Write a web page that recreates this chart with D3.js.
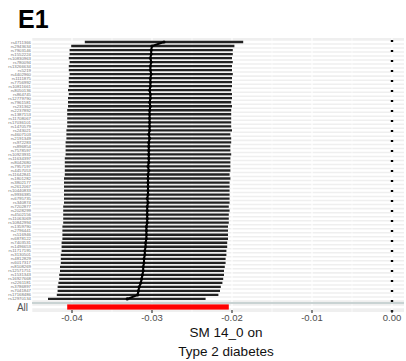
<!DOCTYPE html>
<html><head><meta charset="utf-8">
<script src="https://cdn.jsdelivr.net/npm/d3@7"></script>
<style>body{margin:0;background:#fff}svg{display:block;font-family:"Liberation Sans",Arial,sans-serif}</style>
</head><body><svg id="c" width="406" height="361"></svg>
<script>
const snps = ["rs4711366","rs2943634","rs7903146","rs1552224","rs10830963","rs780094","rs13266634","rs5219","rs4402960","rs1111875","rs7756992","rs10811661","rs8050136","rs864745","rs12779790","rs7961581","rs231362","rs2237892","rs1387153","rs11708067","rs17036101","rs1470579","rs243021","rs4607103","rs2191349","rs972283","rs896854","rs7578597","rs10923931","rs11634397","rs8042680","rs7957197","rs4457053","rs11642841","rs1801282","rs3802177","rs2612067","rs10440833","rs9936385","rs6795735","rs340874","rs7202877","rs2028299","rs4502156","rs11063069","rs10842994","rs1359790","rs2796441","rs516946","rs6878122","rs7403531","rs1496653","rs11717195","rs3130501","rs4812829","rs6017317","rs8108269","rs12571751","rs1531343","rs16927668","rs2261181","rs3786897","rs7041847","rs17168486","rs12970134"];
const est = [-0.0285,-0.0300,-0.0301,-0.0301,-0.0302,-0.0301,-0.0302,-0.0302,-0.0301,-0.0302,-0.0302,-0.0302,-0.0303,-0.0302,-0.0302,-0.0303,-0.0302,-0.0303,-0.0303,-0.0303,-0.0303,-0.0303,-0.0303,-0.0304,-0.0303,-0.0304,-0.0304,-0.0304,-0.0304,-0.0304,-0.0304,-0.0305,-0.0304,-0.0305,-0.0305,-0.0305,-0.0305,-0.0305,-0.0305,-0.0306,-0.0305,-0.0306,-0.0306,-0.0306,-0.0306,-0.0306,-0.0307,-0.0307,-0.0307,-0.0307,-0.0308,-0.0308,-0.0309,-0.0309,-0.0310,-0.0310,-0.0311,-0.0311,-0.0312,-0.0313,-0.0314,-0.0316,-0.0317,-0.0318,-0.0331];
const lower = [-0.0384,-0.0401,-0.0403,-0.0403,-0.0404,-0.0403,-0.0404,-0.0404,-0.0403,-0.0404,-0.0404,-0.0404,-0.0405,-0.0404,-0.0405,-0.0405,-0.0405,-0.0406,-0.0406,-0.0406,-0.0406,-0.0406,-0.0407,-0.0407,-0.0407,-0.0408,-0.0408,-0.0408,-0.0408,-0.0409,-0.0409,-0.0409,-0.0409,-0.0409,-0.0410,-0.0410,-0.0410,-0.0410,-0.0410,-0.0410,-0.0410,-0.0411,-0.0411,-0.0411,-0.0411,-0.0411,-0.0412,-0.0412,-0.0412,-0.0412,-0.0413,-0.0413,-0.0413,-0.0414,-0.0414,-0.0414,-0.0415,-0.0415,-0.0416,-0.0416,-0.0417,-0.0418,-0.0418,-0.0419,-0.0430];
const upper = [-0.0186,-0.0197,-0.0199,-0.0199,-0.0200,-0.0199,-0.0200,-0.0200,-0.0199,-0.0200,-0.0200,-0.0200,-0.0201,-0.0200,-0.0200,-0.0201,-0.0200,-0.0201,-0.0201,-0.0201,-0.0201,-0.0201,-0.0200,-0.0202,-0.0201,-0.0201,-0.0202,-0.0202,-0.0201,-0.0202,-0.0202,-0.0202,-0.0202,-0.0203,-0.0202,-0.0203,-0.0203,-0.0203,-0.0203,-0.0203,-0.0203,-0.0204,-0.0203,-0.0204,-0.0204,-0.0204,-0.0205,-0.0205,-0.0205,-0.0205,-0.0206,-0.0206,-0.0207,-0.0207,-0.0208,-0.0208,-0.0209,-0.0210,-0.0210,-0.0211,-0.0212,-0.0214,-0.0215,-0.0217,-0.0233];
const allEst = -0.0305, allLower = -0.0406, allUpper = -0.0204;
const xTicks = [-0.04,-0.03,-0.02,-0.01,0.00];
const xMinor = [-0.045,-0.035,-0.025,-0.015,-0.005];
const titleText = "E1";
const xTitle = ["SM 14_0 on","Type 2 diabetes"];

const svg = d3.select("#c");
const L = 32, R = 404, T = 38, B = 312;
const x = d3.scaleLinear().domain([-0.045, 0.0015]).range([L, R]);
const y = d3.scalePoint().domain([...snps, "sep", "All"]).range([42, 307]);

// panel
svg.append("rect").attr("x",L).attr("y",T).attr("width",R-L).attr("height",B-T).attr("fill","#efefef");
svg.append("g").selectAll("line").data(xMinor).join("line")
  .attr("x1",d=>x(d)).attr("x2",d=>x(d)).attr("y1",T).attr("y2",B)
  .attr("stroke","#fff").attr("stroke-width",0.6);
svg.append("g").selectAll("line").data(snps.concat(["All"])).join("line")
  .attr("x1",L).attr("x2",R).attr("y1",d=>y(d)).attr("y2",d=>y(d))
  .attr("stroke","#fff").attr("stroke-width",2.5);
svg.append("g").selectAll("line").data(xTicks).join("line")
  .attr("x1",d=>x(d)).attr("x2",d=>x(d)).attr("y1",T).attr("y2",B)
  .attr("stroke","#fff").attr("stroke-width",1.2);
// separator
svg.append("line").attr("x1",L).attr("x2",R).attr("y1",y("sep")).attr("y2",y("sep"))
  .attr("stroke","#c9d3d3").attr("stroke-width",2);

// zero dotted line
svg.append("line").attr("x1",x(0)).attr("x2",x(0)).attr("y1",40).attr("y2",B)
  .attr("stroke","#000").attr("stroke-width",2.4).attr("stroke-dasharray","2,8");

// bars
const rows = snps.map((s,i)=>({s, e:est[i], lo:lower[i], hi:upper[i]}));
svg.append("g").selectAll("line").data(rows).join("line")
  .attr("x1",d=>x(d.lo)).attr("x2",d=>x(d.hi)).attr("y1",d=>y(d.s)).attr("y2",d=>y(d.s))
  .attr("stroke","#222").attr("stroke-width",2.3);
// connecting line through estimates
svg.append("path").datum(rows)
  .attr("d", d3.line().x(d=>x(d.e)).y(d=>y(d.s)))
  .attr("fill","none").attr("stroke","#000").attr("stroke-width",2);
svg.append("g").selectAll("circle").data(rows).join("circle")
  .attr("cx",d=>x(d.e)).attr("cy",d=>y(d.s)).attr("r",1.6).attr("fill","#000");

// All row
svg.append("rect").attr("x",x(allLower)).attr("width",x(allUpper)-x(allLower))
  .attr("y",y("All")-2.6).attr("height",5.2).attr("fill","#ff0000");

// y labels
svg.append("g").selectAll("text").data(snps).join("text")
  .attr("x",L-1).attr("y",d=>y(d)).attr("dy","0.35em").attr("text-anchor","end")
  .attr("font-size",4.3).attr("fill","#777").text(d=>d);
svg.append("text").attr("x",28).attr("y",y("All")).attr("dy","0.35em").attr("text-anchor","end")
  .attr("font-size",10).attr("fill","#555").text("All");

// x axis
const ax = svg.append("g");
ax.selectAll("line").data(xTicks).join("line")
  .attr("x1",d=>x(d)).attr("x2",d=>x(d)).attr("y1",B-2).attr("y2",B+1)
  .attr("stroke","#333").attr("stroke-width",1.2);
ax.selectAll("text").data(xTicks).join("text")
  .attr("x",d=>x(d)).attr("y",321).attr("text-anchor","middle")
  .attr("font-size",9.5).attr("fill","#4d4d4d").text(d=>d3.format(".2f")(d).replace("\u2212","-"));

svg.append("text").attr("x",226).attr("y",337).attr("text-anchor","middle")
  .attr("font-size",13.5).attr("fill","#111").text(xTitle[0]);
svg.append("text").attr("x",226).attr("y",356).attr("text-anchor","middle")
  .attr("font-size",13.5).attr("fill","#111").text(xTitle[1]);

svg.append("text").attr("x",18).attr("y",28).attr("font-size",25).attr("font-weight","bold")
  .attr("fill","#000").text(titleText);
</script></body></html>
